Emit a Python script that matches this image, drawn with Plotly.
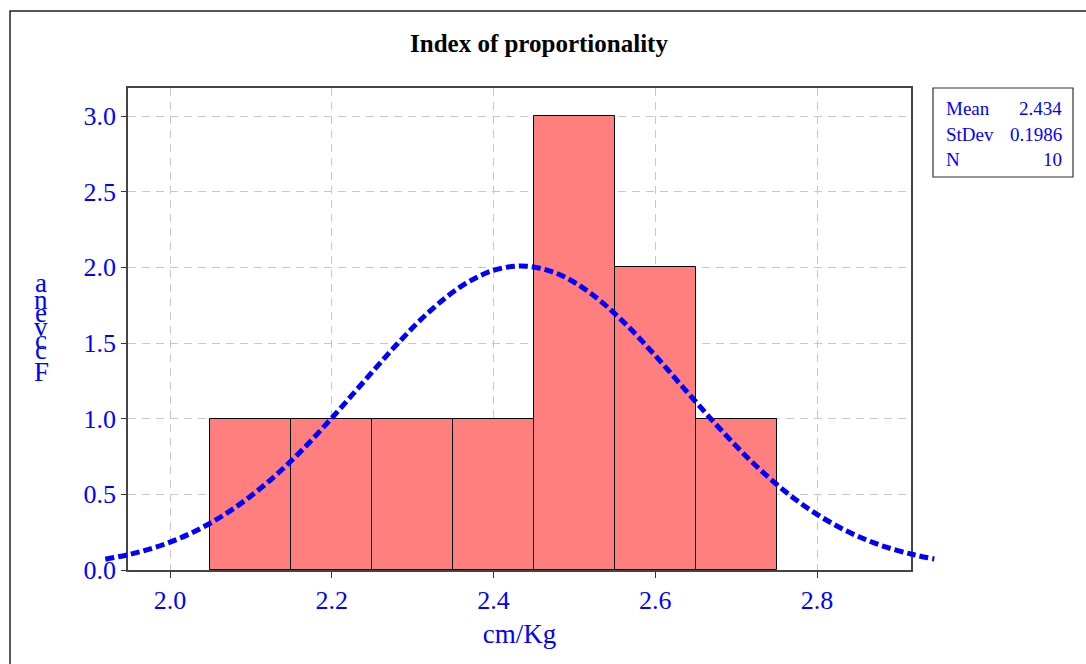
import plotly.graph_objects as go

# ---------------- data ----------------
bin_centers = [2.1, 2.2, 2.3, 2.4, 2.5, 2.6, 2.7]
bin_counts = [1, 1, 1, 1, 3, 2, 1]
bin_width = 0.1

curve_x = [1.92, 1.96, 2.00, 2.04, 2.08, 2.12, 2.16, 2.20, 2.24, 2.28, 2.32, 2.36,
           2.40, 2.44, 2.48, 2.52, 2.56, 2.60, 2.64, 2.68, 2.72, 2.76, 2.80, 2.84,
           2.88, 2.92, 2.945]
curve_y = [0.071, 0.116, 0.184, 0.281, 0.411, 0.576, 0.775, 1.004, 1.247, 1.488,
           1.704, 1.874, 1.980, 2.008, 1.956, 1.829, 1.643, 1.417, 1.173, 0.933,
           0.712, 0.522, 0.368, 0.249, 0.161, 0.101, 0.073]

stat_labels = ["Mean", "StDev", "N"]
stat_values = ["2.434", "0.1986", "10"]

x_ticks = [2.0, 2.2, 2.4, 2.6, 2.8]
y_ticks = [0.0, 0.5, 1.0, 1.5, 2.0, 2.5, 3.0]
title_text = "Index of proportionality"
x_title = "cm/Kg"
y_title_glyphs = ["a", "n", "e", "v", "c", "c", "F"]

# ---------------- layout geometry (pixels) ----------------
W, H = 1086, 664
L, R = 100, 940          # outer drawing area (curve may extend here)
T, B = 88, 570           # plot area top / bottom
PL, PR = 128, 911        # visible axes frame
ppu = 808.75             # pixels per x unit
x0px = 170               # pixel of x=2.0

def px(p):
    return (p - L) / (R - L)

def py(p):
    return (B - p) / (B - T)

FONT = "Liberation Serif"
BLUE = "#0000FF"

fig = go.Figure()

fig.add_trace(go.Bar(
    x=bin_centers, y=bin_counts, width=bin_width,
    marker=dict(color="#FF7F7F", line=dict(color="#000000", width=1)),
    xaxis="x", yaxis="y", showlegend=False, hoverinfo="x+y"))

fig.add_trace(go.Scatter(
    x=curve_x, y=curve_y, mode="lines",
    line=dict(color=BLUE, width=5, dash="9px,4px", shape="spline"),
    xaxis="x2", yaxis="y2", showlegend=False))

yr = [0, 3.0 + (116 - T) / 151.3]

fig.update_layout(
    width=W, height=H,
    margin=dict(l=L, r=W - R, t=T, b=H - B),
    paper_bgcolor="white", plot_bgcolor="rgba(0,0,0,0)",
    font=dict(family=FONT, color=BLUE),
    bargap=0,
    xaxis=dict(
        domain=[px(PL), px(PR)],
        range=[2.0 - (x0px - PL) / ppu, 2.0 + (PR - x0px) / ppu],
        tickvals=x_ticks, ticktext=[f"{v:.1f}" for v in x_ticks],
        tickfont=dict(size=26, color=BLUE, family=FONT),
        ticks="outside", ticklen=6, tickcolor="#333",
        showline=True, linecolor="#444", linewidth=1.5, mirror=True,
        showgrid=True, gridcolor="#C8C8C8", griddash="8px,6px", gridwidth=1,
        zeroline=False, anchor="y",
        title=dict(text=x_title, font=dict(size=27, color=BLUE, family=FONT), standoff=10),
    ),
    yaxis=dict(
        domain=[0, 1], range=yr,
        tickvals=y_ticks, ticktext=[f"{v:.1f}" for v in y_ticks],
        tickfont=dict(size=26, color=BLUE, family=FONT),
        ticks="outside", ticklen=5, tickcolor="#333",
        showline=True, linecolor="#444", linewidth=1.5, mirror=True,
        showgrid=True, gridcolor="#C8C8C8", griddash="8px,6px", gridwidth=1,
        zeroline=False, anchor="x",
    ),
    xaxis2=dict(domain=[0, 1],
                range=[2.0 - (x0px - L) / ppu, 2.0 + (R - x0px) / ppu],
                visible=False, anchor="y2"),
    yaxis2=dict(domain=[0, 1], range=yr, visible=False, anchor="x2"),
)

shapes = []
# outer frame
shapes.append(dict(type="path", xref="paper", yref="paper",
                   path=f"M {px(10)},{py(H + 5)} L {px(10)},{py(11)} L {px(W + 5)},{py(11)}",
                   line=dict(color="#222", width=1.5)))
# stats box
shapes.append(dict(type="rect", xref="paper", yref="paper",
                   x0=px(933), x1=px(1073), y0=py(177), y1=py(88),
                   line=dict(color="#333", width=1.2), fillcolor="white"))
fig.update_layout(shapes=shapes)

ann = []
ann.append(dict(text=f"<b>{title_text}</b>", xref="paper", yref="paper",
                x=px(539), y=py(43), showarrow=False,
                font=dict(size=25, color="black", family=FONT),
                xanchor="center", yanchor="middle"))
row_y = [109, 134, 159]
for lab, val, yy in zip(stat_labels, stat_values, row_y):
    ann.append(dict(text=lab, xref="paper", yref="paper", x=px(944), y=py(yy),
                    showarrow=False, xanchor="left", yanchor="middle",
                    font=dict(size=19, color=BLUE, family=FONT)))
    ann.append(dict(text=val, xref="paper", yref="paper", x=px(1064), y=py(yy),
                    showarrow=False, xanchor="right", yanchor="middle",
                    font=dict(size=19, color=BLUE, family=FONT)))
glyph_y = [283, 300, 313, 327, 340, 350, 372]
for g, yy in zip(y_title_glyphs, glyph_y):
    ann.append(dict(text=g, xref="paper", yref="paper", x=px(41), y=py(yy),
                    showarrow=False, xanchor="center", yanchor="middle",
                    font=dict(size=27, color=BLUE, family=FONT)))
fig.update_layout(annotations=ann)

fig.write_html("out.html", config={"displayModeBar": False},
               post_script="document.body.style.margin='0';")
